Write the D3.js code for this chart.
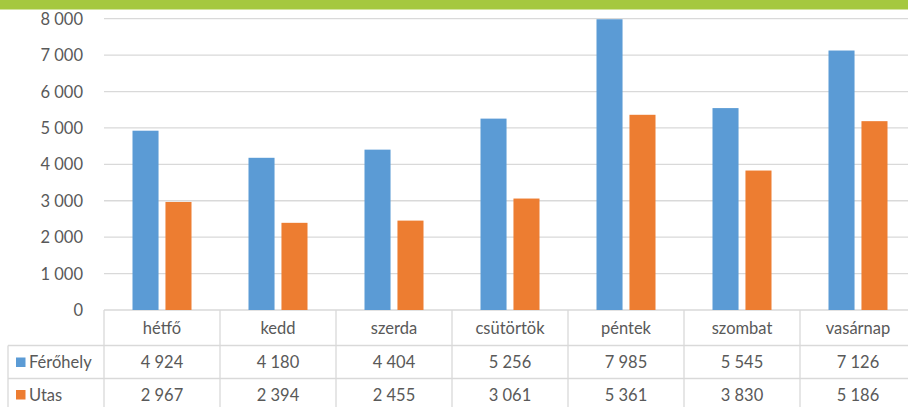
<!DOCTYPE html>
<html>
<head>
<meta charset="utf-8">
<script src="https://cdn.jsdelivr.net/npm/d3@7"></script>
<style>
  html, body { margin: 0; padding: 0; background: #fff; }
  svg { display: block; font-family: Lato, "Open Sans", sans-serif; }
</style>
</head>
<body>
<div id="chart"></div>
<script>
// data
const days = ['hétfő', 'kedd', 'szerda', 'csütörtök', 'péntek', 'szombat', 'vasárnap'];
const seriesNames = ['Férőhely', 'Utas'];
const ferohely = [4924, 4180, 4404, 5256, 7985, 5545, 7126];
const utas = [2967, 2394, 2455, 3061, 5361, 3830, 5186];
const yTicks = [0, 1000, 2000, 3000, 4000, 5000, 6000, 7000, 8000];
const colors = ['#5b9bd5', '#ed7d31'];

const width = 908;
const height = 407;
const plotLeft = 104, plotRight = 916, plotTop = 18.7, plotBottom = 310;
const gridColor = '#d9d9d9';
const textColor = '#595959';
const fontSize = 16.5;

const values = [ferohely, utas];
const fmt = (v) => d3.format(',')(v).replace(/,/g, ' ');

const svg = d3.select('#chart').append('svg')
  .attr('width', width)
  .attr('height', height);

// green strip on top
svg.append('rect')
  .attr('x', 0).attr('y', 0)
  .attr('width', width).attr('height', 9.5)
  .attr('fill', '#a5c83f');

const x = d3.scaleBand().domain(days).range([plotLeft, plotRight]).padding(0);
const x1 = d3.scaleBand().domain(seriesNames).range([0, 59]).paddingInner(0.21);
const y = d3.scaleLinear().domain([0, 8000]).range([plotBottom, plotTop]);

// gridlines
svg.append('g')
  .selectAll('line')
  .data(yTicks)
  .join('line')
  .attr('x1', plotLeft).attr('x2', plotRight)
  .attr('y1', (d) => y(d)).attr('y2', (d) => y(d))
  .attr('stroke', gridColor)
  .attr('stroke-width', 1.3);

// y tick labels
svg.append('g')
  .selectAll('text')
  .data(yTicks)
  .join('text')
  .attr('x', 83)
  .attr('y', (d) => y(d))
  .attr('text-anchor', 'end')
  .attr('dominant-baseline', 'central')
  .attr('fill', textColor)
  .attr('font-size', fontSize)
  .text((d) => fmt(d));

// bars
const groupOffset = (x.bandwidth() - 59) / 2;
seriesNames.forEach((name, si) => {
  svg.append('g')
    .selectAll('rect')
    .data(days)
    .join('rect')
    .attr('x', (d) => x(d) + groupOffset + x1(name))
    .attr('width', x1.bandwidth())
    .attr('y', (d, i) => y(values[si][i]))
    .attr('height', (d, i) => y(0) - y(values[si][i]))
    .attr('fill', colors[si]);
});

// data table
const rowLines = [345.5, 378.5];
const table = svg.append('g');

table.selectAll('line.h')
  .data(rowLines)
  .join('line')
  .attr('class', 'h')
  .attr('x1', 8).attr('x2', plotRight)
  .attr('y1', (d) => d).attr('y2', (d) => d)
  .attr('stroke', gridColor).attr('stroke-width', 1.3);

table.selectAll('line.v')
  .data(days.map((d) => x(d)).concat([plotRight]))
  .join('line')
  .attr('class', 'v')
  .attr('x1', (d) => d).attr('x2', (d) => d)
  .attr('y1', plotBottom).attr('y2', height)
  .attr('stroke', gridColor).attr('stroke-width', 1.3);

table.append('line')
  .attr('x1', 8).attr('x2', 8)
  .attr('y1', rowLines[0]).attr('y2', height)
  .attr('stroke', gridColor).attr('stroke-width', 1.3);

// header row
table.selectAll('text.cat')
  .data(days)
  .join('text')
  .attr('class', 'cat')
  .attr('x', (d) => x(d) + x.bandwidth() / 2)
  .attr('y', 327.5)
  .attr('text-anchor', 'middle')
  .attr('dominant-baseline', 'central')
  .attr('fill', textColor)
  .attr('font-size', fontSize)
  .text((d) => d);

const rowY = [362, 394.5];
seriesNames.forEach((name, si) => {
  table.append('rect')
    .attr('x', 16).attr('y', rowY[si] - 4.5)
    .attr('width', 9.5).attr('height', 9.5)
    .attr('fill', colors[si]);
  table.append('text')
    .attr('x', 29).attr('y', rowY[si])
    .attr('dominant-baseline', 'central')
    .attr('fill', textColor)
    .attr('font-size', fontSize)
    .text(name);
  table.append('g')
    .selectAll('text')
    .data(days)
    .join('text')
    .attr('x', (d) => x(d) + x.bandwidth() / 2)
    .attr('y', rowY[si])
    .attr('text-anchor', 'middle')
    .attr('dominant-baseline', 'central')
    .attr('fill', textColor)
    .attr('font-size', fontSize)
    .text((d, i) => fmt(values[si][i]));
});
</script>
</body>
</html>
